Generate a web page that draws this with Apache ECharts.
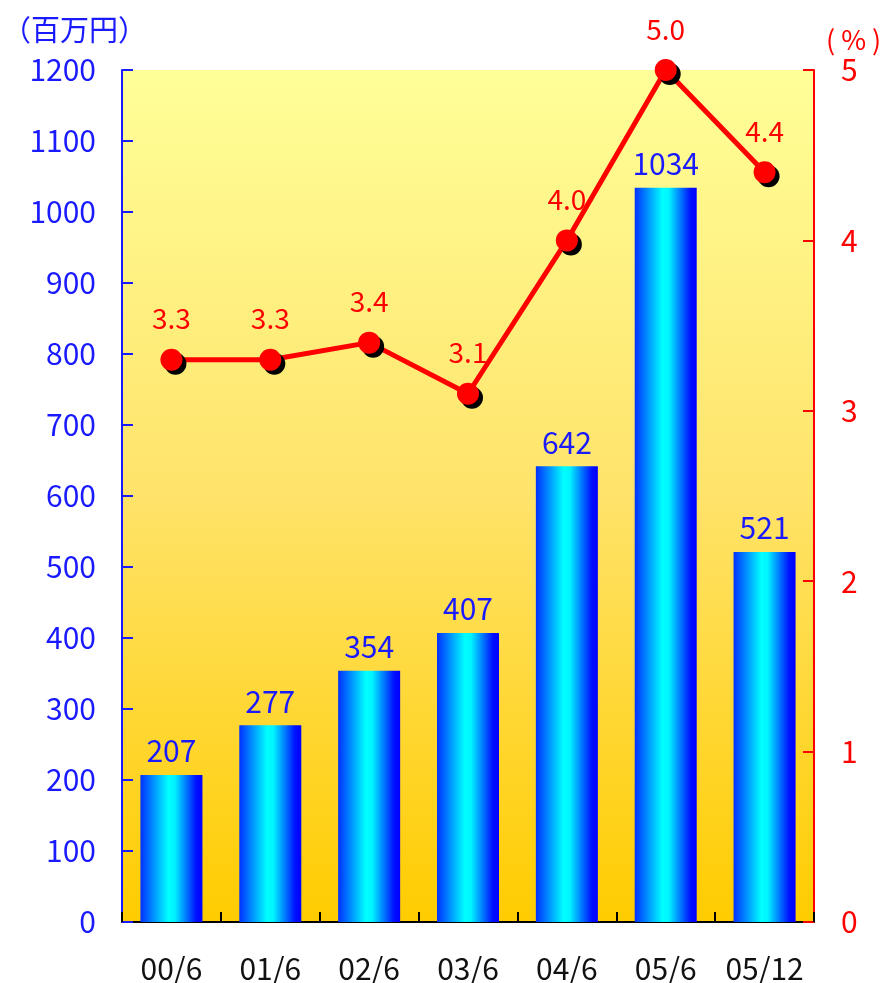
<!DOCTYPE html>
<html>
<head>
<meta charset="utf-8">
<script src="https://cdn.jsdelivr.net/npm/echarts@6/dist/echarts.min.js"></script>
<style>
  html, body { margin: 0; padding: 0; background: #ffffff; }
  #chart { width: 887px; height: 983px; }
</style>
</head>
<body>
<div id="chart"></div>
<script>
// Periods (fiscal half-years)
const categories = ['00/6', '01/6', '02/6', '03/6', '04/6', '05/6', '05/12'];
// Amount in millions of yen (bars, left axis)
const amounts = [207, 277, 354, 407, 642, 1034, 521];
// Ratio in percent (line, right axis)
const ratios = [3.3, 3.3, 3.4, 3.1, 4.0, 5.0, 4.4];
// Unit captions above each value axis
const unitLeft = '（百万円）';
const unitRight = '( % )';

const FONT = '"Noto Sans CJK JP", "Noto Sans", sans-serif';
const BLUE = '#1a1aff';
const RED = '#ff0000';

const chart = echarts.init(document.getElementById('chart'));

chart.setOption({
  animation: false,
  backgroundColor: '#ffffff',
  grid: {
    left: 122, right: 73, top: 70, bottom: 61,
    outerBoundsMode: 'none',
    containLabel: false,
    show: true,
    borderWidth: 0,
    backgroundColor: {
      type: 'linear', x: 0, y: 0, x2: 0, y2: 1,
      colorStops: [
        { offset: 0, color: '#ffff99' },
        { offset: 0.5, color: '#ffe36a' },
        { offset: 1, color: '#ffcc00' }
      ]
    }
  },
  graphic: [
    {
      type: 'text', left: 2, top: 15,
      style: { text: unitLeft, fill: BLUE, fontSize: 29, fontFamily: FONT }
    },
    {
      type: 'text', left: 826, top: 26,
      style: { text: unitRight, fill: RED, fontSize: 27, fontFamily: FONT }
    }
  ],
  xAxis: {
    type: 'category',
    data: categories,
    boundaryGap: true,
    axisLine: { lineStyle: { color: '#000000', width: 2 } },
    axisTick: { show: true, inside: true, length: 10, interval: 0, lineStyle: { color: '#000000', width: 2 } },
    axisLabel: { color: '#111111', fontSize: 30, fontFamily: FONT, margin: 32, interval: 0 }
  },
  yAxis: [
    {
      type: 'value',
      min: 0, max: 1200, interval: 100,
      splitLine: { show: false },
      axisLine: { show: true, lineStyle: { color: BLUE, width: 2 } },
      axisTick: { show: true, inside: true, length: 11, lineStyle: { color: BLUE, width: 2 } },
      axisLabel: { color: BLUE, fontSize: 30, fontFamily: FONT, margin: 26, formatter: v => String(v) }
    },
    {
      type: 'value',
      min: 0, max: 5, interval: 1,
      splitLine: { show: false },
      axisLine: { show: true, lineStyle: { color: RED, width: 2 } },
      axisTick: { show: true, inside: true, length: 11, lineStyle: { color: RED, width: 2 } },
      axisLabel: { color: RED, fontSize: 30, fontFamily: FONT, margin: 27 }
    }
  ],
  series: [
    {
      type: 'bar',
      yAxisIndex: 0,
      data: amounts,
      barWidth: 62,
      itemStyle: {
        color: {
          type: 'linear', x: 0, y: 0, x2: 1, y2: 0,
          colorStops: [
            { offset: 0, color: '#0030ff' },
            { offset: 0.45, color: '#00ffff' },
            { offset: 0.55, color: '#00f4ff' },
            { offset: 0.9, color: '#0010ff' },
            { offset: 1, color: '#0000ff' }
          ]
        }
      },
      label: {
        show: true, position: 'top', distance: 9,
        color: BLUE, fontSize: 30, fontFamily: FONT
      }
    },
    {
      type: 'line',
      yAxisIndex: 1,
      data: ratios,
      symbol: 'circle',
      symbolSize: 22,
      lineStyle: { color: RED, width: 5 },
      itemStyle: {
        color: RED,
        shadowColor: '#000000',
        shadowBlur: 0,
        shadowOffsetX: 4,
        shadowOffsetY: 4
      },
      label: {
        show: true, position: 'top', distance: 16,
        color: RED, fontSize: 28, fontFamily: FONT,
        formatter: p => p.value.toFixed(1)
      },
      z: 5
    }
  ]
});
</script>
</body>
</html>
